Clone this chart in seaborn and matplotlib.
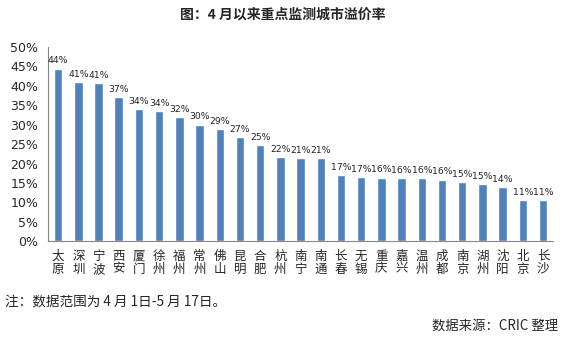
import matplotlib
matplotlib.use("Agg")
import matplotlib.pyplot as plt
import seaborn as sns
import pandas as pd
import numpy as np
from matplotlib.ticker import FixedLocator, PercentFormatter

# 重点监测城市 (4月1日-5月17日) 溢价率, %
cities = ["太原", "深圳", "宁波", "西安", "厦门", "徐州", "福州", "常州", "佛山", "昆明",
          "合肥", "杭州", "南宁", "南通", "长春", "无锡", "重庆", "嘉兴", "温州", "成都",
          "南京", "湖州", "沈阳", "北京", "长沙"]
premium = [44.4, 40.9, 40.6, 37.1, 34.0, 33.5, 32.0, 30.0, 28.8, 26.9,
           24.8, 21.7, 21.4, 21.4, 17.0, 16.6, 16.4, 16.2, 16.2, 15.9,
           15.2, 14.7, 14.0, 10.7, 10.7]
y_ticks = [0, 5, 10, 15, 20, 25, 30, 35, 40, 45, 50]

title = "图：4 月以来重点监测城市溢价率"
note = "注：数据范围为 4 月 1日-5 月 17日。"
source = "数据来源：CRIC 整理"

sns.set_style("white")
plt.rcParams["font.family"] = ["Noto Sans CJK SC", "DejaVu Sans"]

df = pd.DataFrame({"city": cities, "premium": premium})

fig = plt.figure(figsize=(5.65, 3.41), dpi=100)
ax = fig.add_axes([0.085, 0.292, 0.894, 0.571])

bar_color = "#4F81BD"
sns.barplot(data=df, x="city", y="premium", color=bar_color, width=0.42,
            saturation=1, ax=ax)

# value labels above each bar
for i, v in enumerate(premium):
    ax.text(i, v + 0.8, f"{v:.0f}%", ha="center", va="bottom",
            fontsize=6.7, color="#222222", family=["DejaVu Sans"])

ax.set_xlim(-0.5, len(cities) - 0.5)
ax.set_ylim(0, 50)
ax.yaxis.set_major_locator(FixedLocator(y_ticks))
ax.yaxis.set_major_formatter(PercentFormatter(decimals=0))

ax.set_xticks(range(len(cities)))
ax.set_xticklabels(["\n".join(c) for c in cities], fontsize=9, linespacing=1.0)
ax.xaxis.set_minor_locator(FixedLocator(np.arange(-0.5, len(cities), 1.0)))
ax.tick_params(axis="x", which="major", length=0, pad=6)
ax.tick_params(axis="x", which="minor", length=4, color="#868686", direction="out")
ax.tick_params(axis="y", length=4, color="#868686", direction="out", labelsize=9, pad=3)
for lab in ax.get_yticklabels():
    lab.set_family(["DejaVu Sans"])

ax.set_xlabel("")
ax.set_ylabel("")
sns.despine(ax=ax)
for s in ("left", "bottom"):
    ax.spines[s].set_color("#868686")
    ax.spines[s].set_linewidth(0.8)

fig.text(0.50, 0.958, title, ha="center", va="center", fontsize=10, fontweight="bold")
fig.text(0.009, 0.113, note, ha="left", va="center", fontsize=9.8)
fig.text(0.988, 0.045, source, ha="right", va="center", fontsize=9.6)

fig.savefig("out.png", dpi=100)
